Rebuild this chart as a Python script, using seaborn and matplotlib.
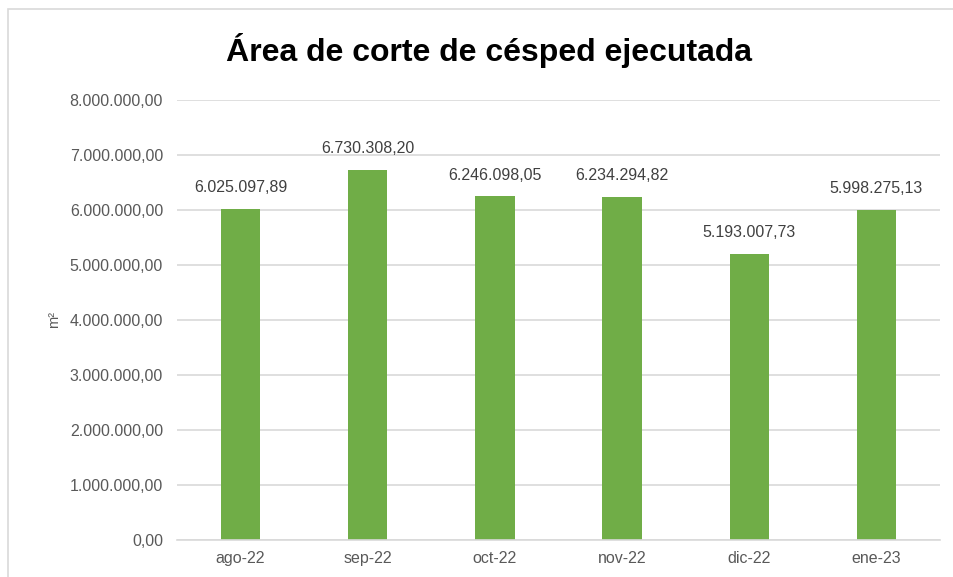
import matplotlib
matplotlib.use("Agg")
import matplotlib.pyplot as plt
import seaborn as sns
import pandas as pd
from matplotlib.ticker import FuncFormatter, MultipleLocator
from matplotlib.patches import Rectangle

months = ["ago-22", "sep-22", "oct-22", "nov-22", "dic-22", "ene-23"]
areas = [6025097.89, 6730308.20, 6246098.05, 6234294.82, 5193007.73, 5998275.13]

sns.set_theme(style="white")
plt.rcParams["font.family"] = ["Liberation Sans", "DejaVu Sans"]

def es_fmt(v, pos=None):
    s = f"{v:,.2f}"
    return s.replace(",", "X").replace(".", ",").replace("X", ".")

df = pd.DataFrame({"mes": months, "area": areas})

fig = plt.figure(figsize=(9.54, 5.77), dpi=100)
ax = fig.add_axes([177/954, 37/577, (940-177)/954, 440/577])

sns.barplot(data=df, x="mes", y="area", color="#70AD47", width=0.31,
            saturation=1, linewidth=0, ax=ax)

ax.set_ylim(0, 8000000)
ax.set_xlim(-0.5, len(months) - 0.5)
ax.yaxis.set_major_locator(MultipleLocator(1000000))
ax.yaxis.set_major_formatter(FuncFormatter(es_fmt))
ax.grid(axis="y", color="#D9D9D9", linewidth=1.2)
ax.set_axisbelow(True)
for side in ["top", "right", "left"]:
    ax.spines[side].set_visible(False)
ax.spines["bottom"].set_color("#D9D9D9")
ax.spines["bottom"].set_linewidth(1.2)

ax.set_xticks([i - 0.5 for i in range(len(months) + 1)], minor=True)
ax.tick_params(axis="x", which="minor", length=5, color="#D9D9D9", width=1.2)
ax.tick_params(axis="x", which="major", length=0, labelsize=11.5,
               labelcolor="#595959", pad=8)
ax.tick_params(axis="y", length=0, labelsize=11.5, labelcolor="#595959", pad=10)

ax.set_xlabel("")
ax.set_ylabel("m²", fontsize=10.5, color="#595959", labelpad=6)

for i, v in enumerate(areas):
    ax.annotate(es_fmt(v), (i, v), xytext=(0, 10), textcoords="offset points",
                ha="center", va="bottom", fontsize=11.5, color="#404040")

fig.text(489/954, 1 - 50/577, "Área de corte de césped ejecutada",
         ha="center", va="center", fontsize=23, fontweight="bold",
         color="#000000")

fig.patches.append(Rectangle((8/954, -0.1), 1.1, 1 - 9/577 + 0.1,
                             transform=fig.transFigure, fill=False,
                             edgecolor="#D9D9D9", linewidth=1.2))

fig.savefig("out.png", dpi=100)
